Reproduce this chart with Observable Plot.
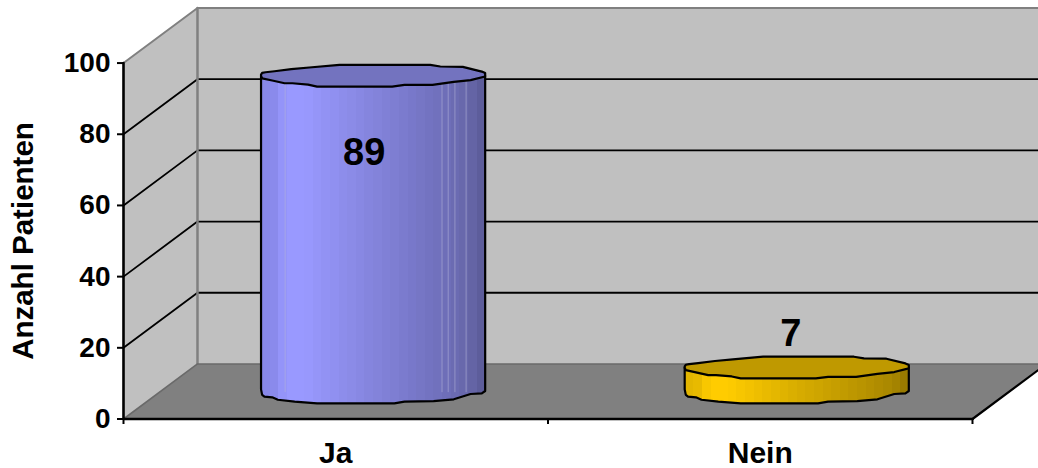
<!DOCTYPE html>
<html>
<head>
<meta charset="utf-8">
<script src="https://cdn.jsdelivr.net/npm/d3@7"></script>
<script src="https://cdn.jsdelivr.net/npm/@observablehq/plot@0.6"></script>
<style>html,body{margin:0;padding:0;background:#fff}svg{display:block}</style>
</head>
<body>
<div id="chart"></div>
<script>
const categories = ["Ja", "Nein"];
const values = [89, 7];
const yTicks = [0, 20, 40, 60, 80, 100];
const xTicks = [0, 1, 2];
const centers = [0.588, 1.586];
const labelX = [0.567, 1.572];
const labelY = [74.8, 23.9];

// 3D depth of the chart box, and the cylinder's cross-section, in axis units
const depthX = 0.1743, depthY = 15.47;
const radiusX = 0.264, radiusY = 3.1, baseY = 7.4;

// Cylinder rims (-1..1 across, -1..1 front to back)
const rimBack = [[-1,0],[-1,.12],[-.99,.27],[-.96,.33],[-.88,.42],[-.73,.61],[-.57,.76],[-.3,1],[.51,1],[.6,.85],[.8,.82],[.97,.39],[1,.25],[1,0]];
const rimFront = [[1,0],[.99,-.08],[.87,-.39],[.72,-.55],[.53,-.82],[.28,-.82],[.17,-.97],[-.5,-.97],[-.58,-.79],[-.72,-.67],[-.79,-.67],[-.9,-.42],[-.99,-.22],[-1,0]];
const rimBase = [[-1,.3],[-.99,-.2],[-.97,-.36],[-.9,-.42],[-.85,-.64],[-.7,-.82],[-.5,-.97],[.19,-.97],[.28,-.82],[.54,-.76],[.72,-.6],[.87,-.12],[.97,-.06],[1,.15]];
const seamsJa = [-.785, .615, .67, .73, .83];

const purpleStops = [[0,"#8787e6"],[.09,"#8c8cf0"],[.1,"#9999ff"],[.19,"#9999ff"],[.5,"#8484dc"],[.8,"#7070bc"],[.93,"#6666a8"],[1,"#5a5a96"]];
const goldStops = [[0,"#e0b400"],[.09,"#ecbe00"],[.1,"#ffcc00"],[.19,"#ffcc00"],[.5,"#d8ad00"],[.8,"#b89300"],[.93,"#a88600"],[1,"#947600"]];
const fills = ["url(#gradJa)", "url(#gradNein)"];
const tops = ["#7373bf", "#bf9900"];

const xMax = 2.1555, yMax = 115.33;
const depthRight = 2 + depthX;

const sideWall = [[0,0],[depthX,depthY],[depthX,100+depthY],[0,100],[0,0]];
const backWall = [[depthX,depthY],[depthRight,depthY],[depthRight,100+depthY],[depthX,100+depthY],[depthX,depthY]];
const floor = [[0,0],[2,0],[depthRight,depthY],[depthX,depthY],[0,0]];
const poly = (pts, o) => Plot.line(pts, {x: d => d[0], y: d => d[1], ...o});

function gradient(id, stops) {
  const scale = d3.scaleLinear(stops.map(d => d[0]), stops.map(d => d[1])).interpolate(d3.interpolateRgb);
  const g = d3.create("svg:linearGradient").attr("id", id);
  const bands = 26;
  for (let i = 0; i < bands; i++) {
    const c = scale((i + .5) / bands);
    g.append("stop").attr("offset", i / bands).attr("stop-color", c);
    g.append("stop").attr("offset", (i + 1) / bands).attr("stop-color", c);
  }
  return g.node();
}

const cylinderMarks = categories.flatMap((c, i) => {
  const cx = centers[i], top = baseY + values[i];
  const at = (pts, level) => pts.map(([u, w]) => [cx + u * radiusX, level + w * radiusY]);
  const bottom = at(rimBase, baseY);
  const upperFront = at(rimFront, top);
  const body = [...bottom, ...upperFront, bottom[0]];
  const face = [...at(rimBack, top), ...upperFront];
  const seams = i === 0 ? seamsJa.map(u => cx + u * radiusX) : [];
  return [
    poly(body, {fill: fills[i]}),
    Plot.ruleX(seams, {x: d => d, y1: baseY, y2: top, stroke: "#b4b4d8", strokeOpacity: 0.55, strokeWidth: 1}),
    poly([[cx - radiusX, top], ...bottom, [cx + radiusX, top]], {stroke: "#000", strokeWidth: 2.2}),
    poly(face, {fill: tops[i], stroke: "#000", strokeWidth: 2.2})
  ];
});

const font = {fontFamily: "'Liberation Sans', Arial, sans-serif", fontWeight: "bold"};

const plot = Plot.plot({
  width: 1038, height: 468,
  marginLeft: 123, marginRight: 0, marginTop: 8, marginBottom: 50,
  x: {domain: [0, xMax], range: [123, 1038]},
  y: {domain: [0, yMax], range: [418.5, 8]},
  style: {background: "transparent", overflow: "hidden"},
  marks: [
    () => { const d = d3.create("svg:defs");
            d.node().append(gradient("gradJa", purpleStops), gradient("gradNein", goldStops));
            return d.node(); },
    poly(sideWall, {fill: "#c0c0c0"}),
    poly(backWall, {fill: "#c0c0c0"}),
    poly(floor, {fill: "#808080"}),
    // gridlines on the side and back walls
    ...yTicks.filter(v => v > 0 && v < 100).map(v =>
      poly([[0, v], [depthX, v + depthY], [depthRight, v + depthY]], {stroke: "#000", strokeWidth: 1.8})),
    // box edges
    poly([[0, 100], [depthX, 100 + depthY], [depthRight, 100 + depthY]], {stroke: "#808080", strokeWidth: 2}),
    poly([[depthX, 100 + depthY], [depthX, depthY]], {stroke: "#808080", strokeWidth: 2.5}),
    poly([[0, 0], [depthX, depthY], [depthRight, depthY]], {stroke: "#6a6a6a", strokeWidth: 1.6}),
    ...cylinderMarks,
    poly([[2, 0], [depthRight, depthY]], {stroke: "#000", strokeWidth: 2.2}),
    poly([[0, 100], [0, 0], [2, 0]], {stroke: "#000", strokeWidth: 2.6}),
    Plot.axisY({ticks: yTicks, tickSize: 6, tickPadding: 7, label: null, fontSize: 28, ...font, stroke: "#000", strokeWidth: 2, fill: "#000"}),
    Plot.axisX({ticks: xTicks, tickSize: 6, tickFormat: () => "", label: null, stroke: "#000", strokeWidth: 2}),
    Plot.text(categories, {x: (d, i) => i + .5, y: () => 0, dy: 34, text: d => d, fontSize: 30, ...font, fill: "#000"}),
    Plot.text(["Anzahl Patienten"], {x: () => 0, y: () => 50, dx: -100, rotate: -90, text: d => d, fontSize: 29.5, ...font, fill: "#000"}),
    Plot.text(values, {x: (d, i) => labelX[i], y: (d, i) => labelY[i], text: d => String(d), fontSize: 38, ...font, fill: "#000"})
  ]
});
document.getElementById("chart").append(plot);
</script>
</body>
</html>
